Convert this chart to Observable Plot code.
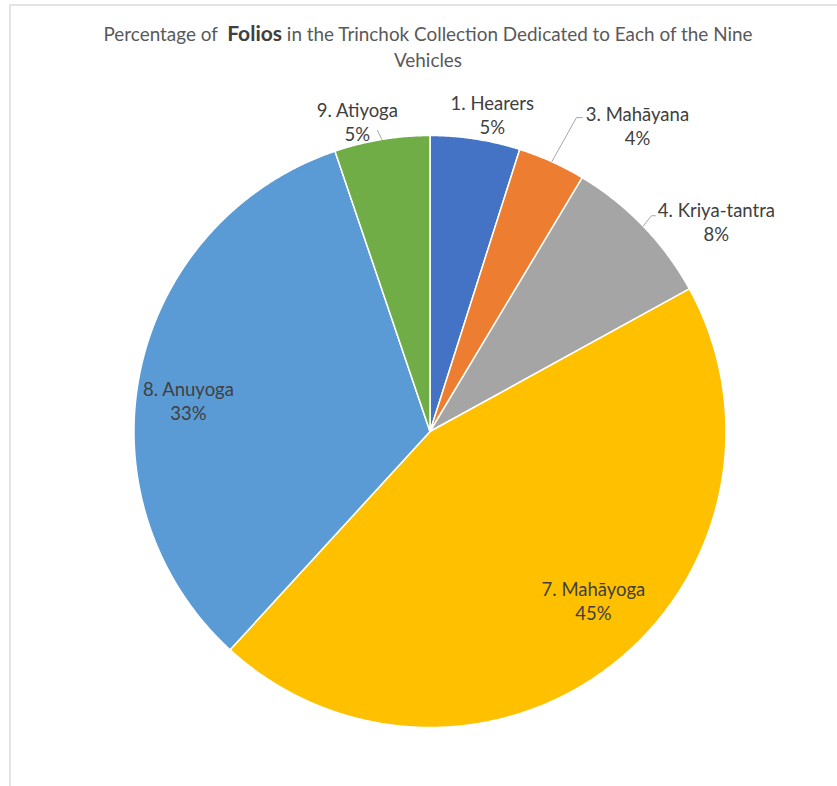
<!DOCTYPE html>
<html><head><meta charset="utf-8">
<script src="https://cdn.jsdelivr.net/npm/d3@7"></script>
<script src="https://cdn.jsdelivr.net/npm/@observablehq/plot@0.6"></script>
<style>
body{margin:0;background:#fff;}
#wrap{position:relative;width:837px;height:786px;overflow:hidden;background:#fff;}
#frame{position:absolute;left:9px;top:4px;right:-4px;bottom:-4px;border-top:2px solid #e4e4e4;border-left:2px solid #e4e4e4;}
#title{position:absolute;left:0;top:20px;width:856px;text-align:center;font-family:Lato,sans-serif;font-size:18.9px;color:#595959;line-height:26px;white-space:nowrap;}
#title b{font-size:21px;font-weight:700;color:#404040;}
#chart{position:absolute;left:0;top:0;}
</style></head>
<body>
<div id="wrap">
  <div id="frame"></div>
  <div id="chart"></div>
  <div id="title">Percentage of&nbsp; <b>Folios</b> in the Trinchok Collection Dedicated to Each of the Nine<br>Vehicles</div>
</div>
<script>
// ---- data ----
const vehicles = ["1. Hearers", "3. Mahāyana", "4. Kriya-tantra", "7. Mahāyoga", "8. Anuyoga", "9. Atiyoga"];
const shares = [4.9, 3.7, 8.4, 44.8, 33.0, 5.2];
const sliceColors = ["#4472C4", "#ED7D31", "#A5A5A5", "#FFC000", "#5B9BD5", "#70AD47"];

// ---- layout ----
const W = 837, H = 786;
const CX = 429.5, CY = 431, R = 296;
// label placement: [angle shift (deg) from slice mid-angle, radius (px)]
const labelPolar = [[2.3, 323], [9.8, 370], [7.7, 355], [-5.9, 235], [-4.6, 243.5], [-3.8, 319]];
// leader lines (offsets from label centre), null when none
const leaderOffsets = [null, [[-61, -7.5], [-55, -7.5]], [[-65, -6], [-61, -6]], null, null, [[20, 9.5]]];

const toRad = Math.PI / 180;
const pie = d3.pie().sort(null).value(d => d)(shares);
const polar = (a, r) => ({x: CX + r * Math.sin(a), y: CY - r * Math.cos(a)});

const slicePts = [];
const labels = [];
const leaders = [];
pie.forEach((p, i) => {
  const name = vehicles[i];
  const n = Math.max(2, Math.ceil((p.endAngle - p.startAngle) / (0.25 * toRad)));
  slicePts.push({name, ...polar(0, 0)});
  for (let k = 0; k <= n; k++) {
    const a = p.startAngle + (p.endAngle - p.startAngle) * k / n;
    slicePts.push({name, ...polar(a, R)});
  }
  slicePts.push({name, ...polar(0, 0)});
  const mid = (p.startAngle + p.endAngle) / 2;
  const [da, lr] = labelPolar[i];
  const lp = polar(mid + da * toRad, lr);
  labels.push({name, x: lp.x, y: lp.y, text: name + "\n" + Math.round(shares[i]) + "%"});
  if (leaderOffsets[i]) {
    leaders.push({name, ...polar(mid, R)});
    leaderOffsets[i].forEach(([ox, oy]) => leaders.push({name, x: lp.x + ox, y: lp.y + oy}));
  }
});

const chart = Plot.plot({
  width: W, height: H, margin: 0,
  style: {background: "transparent"},
  x: {domain: [0, W], range: [0, W], axis: null},
  y: {domain: [0, H], range: [0, H], axis: null},
  color: {domain: vehicles, range: sliceColors},
  marks: [
    Plot.line(slicePts, {x: "x", y: "y", z: "name", fill: "name", stroke: "white", strokeWidth: 1.5, strokeLinejoin: "round", curve: "linear"}),
    Plot.line(leaders, {x: "x", y: "y", z: "name", stroke: "#a6a6a6", strokeWidth: 1, curve: "linear"}),
    Plot.text(labels, {x: "x", y: "y", text: "text", fontSize: 18.5, fontFamily: "Lato, sans-serif", fill: "#404040", lineHeight: 1.3, textAnchor: "middle", lineAnchor: "middle"})
  ]
});
document.getElementById("chart").appendChild(chart);
</script>
</body></html>
